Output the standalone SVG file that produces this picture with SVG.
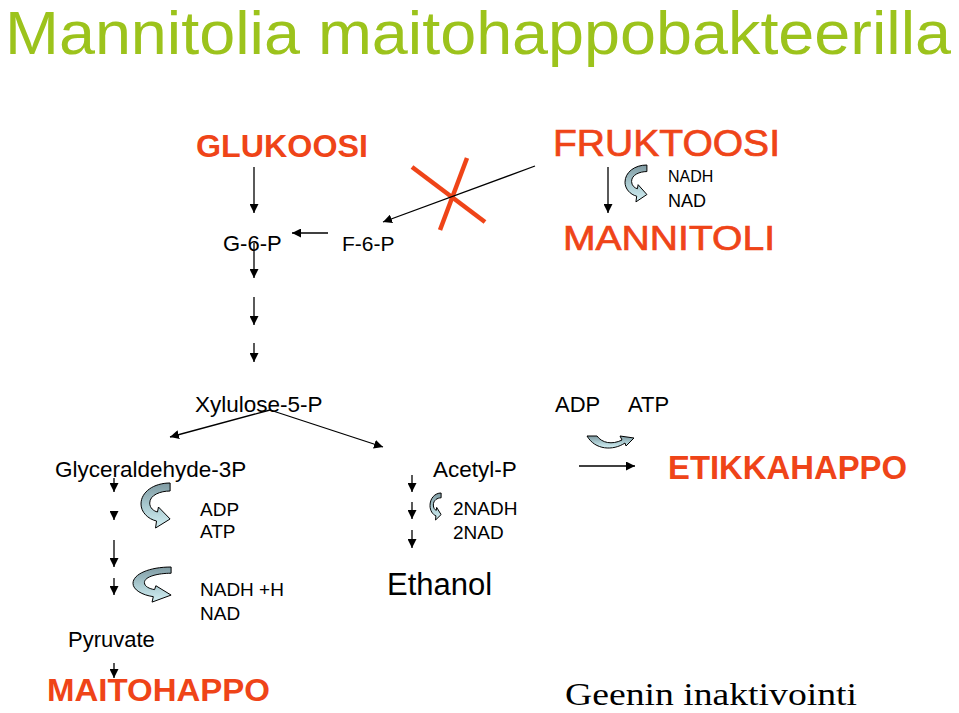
<svg xmlns="http://www.w3.org/2000/svg" xmlns:xlink="http://www.w3.org/1999/xlink" width="959" height="713" viewBox="0 0 959 713">
<style>
text{font-family:"Liberation Sans",Arial,sans-serif;fill:#000}
.title{font-size:62px;fill:#9cc31c}
.red{fill:#ef4418;font-weight:bold}
.redr{fill:#ef4418;stroke:#ef4418;stroke-width:0.7}
.m{font-size:22.5px}
.s{font-size:19px}
.con line{stroke:#000;stroke-width:1.3;marker-end:url(#ah)}
.x line{stroke:#ef4418;stroke-width:4.5}
.ca{fill:url(#g);stroke:#000;stroke-width:1;stroke-linejoin:round}
</style>
<defs>
<marker id="ah" viewBox="0 0 10 10" refX="10" refY="5" markerWidth="9" markerHeight="9" markerUnits="userSpaceOnUse" orient="auto">
<path d="M0,0 L10,5 L0,10 Z" fill="#000"/>
</marker>
<linearGradient id="g" x1="0" y1="0" x2="0" y2="1">
<stop offset="0" stop-color="#7f9aa2"/>
<stop offset="0.5" stop-color="#a9c9cf"/>
<stop offset="1" stop-color="#d3f0f4"/>
</linearGradient>
<path id="cap" class="ca" vector-effect="non-scaling-stroke" d="M30,0 L30,8 C20,8 9,12 9,20 C9,25 13,28 17,29 L18,24 L30,36 L15,45 L16,38 C7,36 0,29 0,21 C0,9 13,0 30,0 Z"/>
</defs>
<rect width="959" height="713" fill="#fff"/>
<g id="title"><text class="title" x="5" y="54" textLength="946" lengthAdjust="spacingAndGlyphs">Mannitolia maitohappobakteerilla</text></g>
<g id="glukoosi"><text class="red" x="196" y="157" font-size="31.5" textLength="172" lengthAdjust="spacingAndGlyphs">GLUKOOSI</text></g>
<g id="fruktoosi"><text class="redr" x="553" y="156" font-size="36" textLength="227" lengthAdjust="spacingAndGlyphs">FRUKTOOSI</text></g>
<g id="nadh-top"><text x="668" y="182" font-size="16">NADH</text><text x="668" y="207" font-size="18">NAD</text>
<use xlink:href="#cap" transform="translate(625,165) scale(0.73,0.82)"/></g>
<g id="mannitoli"><text class="redr" x="563" y="250" font-size="35" textLength="212" lengthAdjust="spacingAndGlyphs">MANNITOLI</text></g>
<g id="g6p"><text x="223" y="251" font-size="22">G-6-P</text></g>
<g id="f6p"><text x="342" y="251" font-size="21">F-6-P</text></g>
<g id="xylulose"><text class="m" x="195" y="412">Xylulose-5-P</text></g>
<g id="adp-atp-right"><text x="555" y="412" font-size="22">ADP</text><text x="628" y="412" font-size="22">ATP</text>
<path class="ca" d="M587,436 L597,436 C602,443 612,445 622,440 L620,436 L634,438 L626,446 L625,443 C613,451 595,450 587,436 Z"/></g>
<g id="glyceraldehyde"><text class="m" x="55" y="477">Glyceraldehyde-3P</text></g>
<g id="acetyl"><text class="m" x="433" y="477">Acetyl-P</text></g>
<g id="etikkahappo"><text class="red" x="668" y="479" font-size="33" textLength="239" lengthAdjust="spacingAndGlyphs">ETIKKAHAPPO</text></g>
<g id="adp-atp-left"><text class="s" x="200" y="516">ADP</text><text class="s" x="200" y="538">ATP</text>
<use xlink:href="#cap" transform="translate(141,483) scale(0.97,1.0)"/></g>
<g id="nadh-left"><text class="s" x="200" y="596">NADH +H</text><text class="s" x="200" y="620">NAD</text>
<use xlink:href="#cap" transform="translate(133,567) scale(1.27,0.78)"/></g>
<g id="nadh-mid"><text class="s" x="453" y="515">2NADH</text><text class="s" x="453" y="539">2NAD</text>
<use xlink:href="#cap" transform="translate(430,493) scale(0.37,0.6)"/></g>
<g id="ethanol"><text x="387" y="595" font-size="31">Ethanol</text></g>
<g id="pyruvate"><text x="68" y="647" font-size="22">Pyruvate</text></g>
<g id="maitohappo"><text class="red" x="47" y="701" font-size="31" textLength="223" lengthAdjust="spacingAndGlyphs">MAITOHAPPO</text></g>
<g id="geenin"><text x="565" y="705" font-size="31" textLength="292" lengthAdjust="spacingAndGlyphs" style="font-family:'Liberation Serif','Times New Roman',serif">Geenin inaktivointi</text></g>
<g id="cross" class="x"><line x1="412" y1="167" x2="485" y2="222"/><line x1="467" y1="158" x2="440" y2="230"/></g>
<g id="connectors" class="con">
<line x1="254" y1="167" x2="254" y2="213"/>
<line x1="608" y1="167" x2="608" y2="213"/>
<line x1="328" y1="233" x2="292" y2="233"/>
<line x1="535" y1="166" x2="383" y2="222"/>
<line x1="254" y1="243" x2="254" y2="278"/>
<line x1="254" y1="297" x2="254" y2="325"/>
<line x1="254" y1="343" x2="254" y2="362"/>
<line x1="270" y1="410" x2="170" y2="437"/>
<line x1="270" y1="410" x2="383" y2="447"/>
<line x1="579" y1="466" x2="635" y2="466"/>
<line x1="114" y1="478" x2="114" y2="492"/>
<line x1="114" y1="511" x2="114" y2="520"/>
<line x1="114" y1="540" x2="114" y2="567"/>
<line x1="114" y1="578" x2="114" y2="595"/>
<line x1="114" y1="663" x2="114" y2="678"/>
<line x1="412" y1="475" x2="412" y2="492"/>
<line x1="412" y1="502" x2="412" y2="519"/>
<line x1="412" y1="530" x2="412" y2="548"/>
</g>
</svg>
